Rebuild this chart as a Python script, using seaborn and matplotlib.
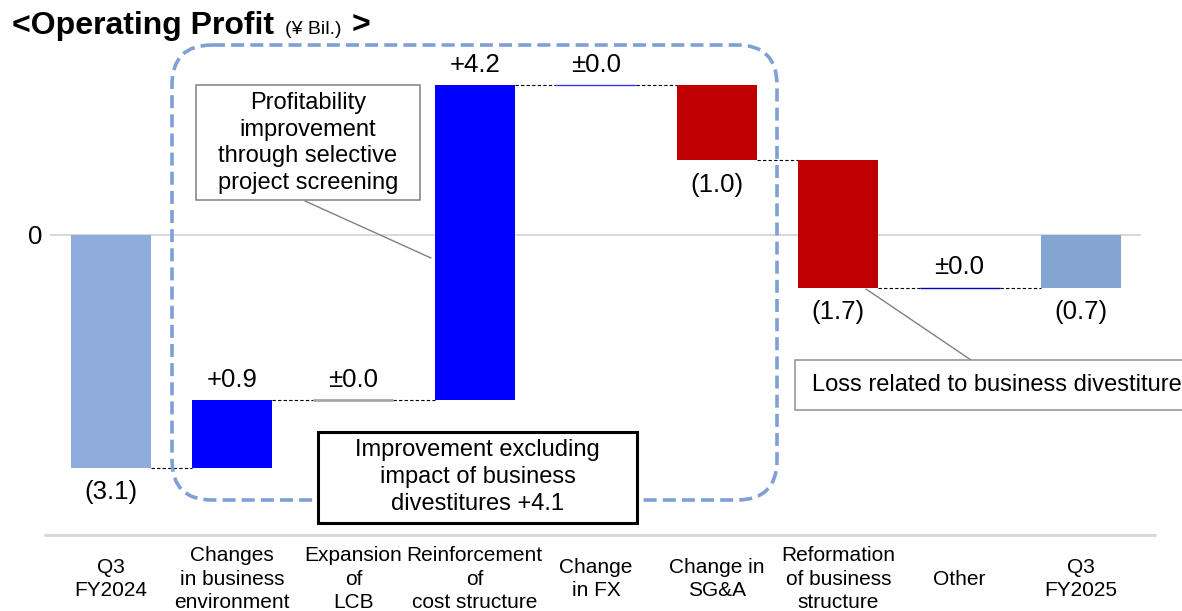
import numpy as np
import pandas as pd
import matplotlib.pyplot as plt
import matplotlib.patches as mpatches
from matplotlib.lines import Line2D
from matplotlib.transforms import Affine2D
import seaborn as sns

# data (¥ Bil.)
categories = ["Q3\nFY2024", "Changes\nin business\nenvironment", "Expansion\nof\nLCB",
              "Reinforcement\nof\ncost structure", "Change\nin FX", "Change in\nSG&A",
              "Reformation\nof business\nstructure", "Other", "Q3\nFY2025"]
changes = [-3.1, 0.9, 0.0, 4.2, 0.0, -1.0, -1.7, 0.0, -0.7]
is_total = [True, False, False, False, False, False, False, False, True]
value_labels = ["(3.1)", "+0.9", "±0.0", "+4.2", "±0.0", "(1.0)", "(1.7)", "±0.0", "(0.7)"]
bar_colors = ["#8FAADC", "#0000FF", "#A6A6A6", "#0000FF", "#3333FF",
              "#C00000", "#C00000", "#0000C0", "#84A5D2"]

# waterfall: where each bar starts
bottoms = []
running = 0.0
for v, tot in zip(changes, is_total):
    if tot:
        bottoms.append(0.0)
        running = v
    else:
        bottoms.append(running)
        running += v
df = pd.DataFrame({"cat": categories, "height": changes, "bottom": bottoms})
levels = df["bottom"] + df["height"]

sns.set_style("white")
plt.rcParams["font.family"] = ["Liberation Sans", "DejaVu Sans"]
plt.rcParams["text.color"] = "black"
plt.rcParams["xtick.color"] = "black"
plt.rcParams["ytick.color"] = "black"

W, H = 1182, 611
fig = plt.figure(figsize=(W / 100, H / 100), dpi=100)
ax = fig.add_axes([50.4 / W, (H - 535) / H, 1091 / W, 510 / H])
# pixel coords, origin top-left
pix = Affine2D().scale(1 / W, -1 / H).translate(0, 1) + fig.transFigure

ax.axhline(0, color="#D9D9D9", lw=1.5, zorder=0)
sns.barplot(data=df, x="cat", y="height", order=categories, bottom=df["bottom"].values,
            color="gray", width=0.66, saturation=1, errorbar=None, ax=ax, zorder=2)

for p, c, h in zip(ax.patches, bar_colors, changes):
    p.set_facecolor(c)
    p.set_edgecolor(c)
    p.set_linewidth(0)
    if h == 0:
        p.set_linewidth(2.0 if c == "#A6A6A6" else 1.0)

# dashed connectors
for i in range(len(categories) - 1):
    ax.plot([i + 0.33, i + 0.67], [levels[i], levels[i]], color="black",
            lw=0.8, ls=(0, (3, 2)), zorder=1)

# value labels
for i, (lab, b, h) in enumerate(zip(value_labels, bottoms, changes)):
    if h < 0:
        ax.annotate(lab, (i, b + h), xytext=(0, -18), textcoords="offset points",
                    ha="center", va="center", fontsize=18.5)
    else:
        ax.annotate(lab, (i, b + h), xytext=(0, 14.5), textcoords="offset points",
                    ha="center", va="center", fontsize=18.5)

ax.set_xlim(-0.5, len(categories) - 0.5)
ax.set_ylim(-4.0, 2.8)
ax.set_yticks([0])
ax.set_yticklabels(["0"], fontsize=18.5)
ax.tick_params(axis="y", length=0, pad=6)
ax.tick_params(axis="x", length=0, pad=31.7, labelsize=15)
for lab in ax.get_xticklabels():
    lab.set_va("center")
    lab.set_linespacing(1.27)
ax.set_xlabel("")
ax.set_ylabel("")
for s in ax.spines.values():
    s.set_visible(False)

fig.add_artist(Line2D([45, 1155], [535, 535], transform=pix, color="#D9D9D9", lw=2.2))

# dashed rounded frame
fig.add_artist(mpatches.FancyBboxPatch((172, 45), 605, 455, boxstyle="round,pad=0,rounding_size=40",
                                       transform=pix, fill=False, ec="#7FA0D4", lw=2.6,
                                       ls=(0, (3.6, 1.7)), zorder=2))

# callout boxes
fig.add_artist(Line2D([305, 431], [201, 258], transform=pix, color="#808080", lw=1, zorder=3))
fig.add_artist(mpatches.Rectangle((196, 85), 224, 115, transform=pix, fc="white",
                                  ec="#808080", lw=1.1, zorder=3))
fig.text(308, 143, "Profitability\nimprovement\nthrough selective\nproject screening",
         transform=pix, ha="center", va="center", fontsize=17, linespacing=1.27, zorder=4)

fig.add_artist(Line2D([866, 971], [289, 360], transform=pix, color="#808080", lw=1, zorder=3))
fig.add_artist(mpatches.Rectangle((795, 360), 400, 50, transform=pix, fc="white",
                                  ec="#909090", lw=1.1, zorder=3))
fig.text(812, 385, "Loss related to business divestiture", transform=pix,
         ha="left", va="center", fontsize=17, zorder=4)

fig.add_artist(mpatches.Rectangle((318, 432), 319, 91, transform=pix, fc="white",
                                  ec="black", lw=2.2, zorder=4))
fig.text(477.5, 477, "Improvement excluding\nimpact of business\ndivestitures +4.1",
         transform=pix, ha="center", va="center", fontsize=17, linespacing=1.27, zorder=5)

# title
fig.text(12, 34, "<Operating Profit", transform=pix, ha="left", va="baseline",
         fontsize=23, fontweight="bold")
fig.text(285, 34, "(¥ Bil.)", transform=pix, ha="left", va="baseline", fontsize=14)
fig.text(352, 34, ">", transform=pix, ha="left", va="baseline", fontsize=23, fontweight="bold")

fig.savefig("out.png", dpi=100)
